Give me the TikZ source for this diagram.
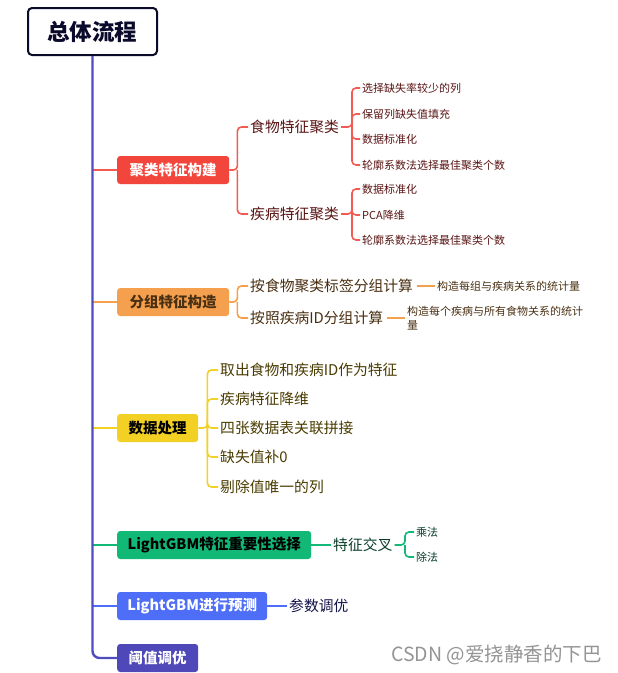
\documentclass[tikz,border=0pt]{standalone}
\usepackage{fontspec}
\setmainfont{Noto Sans CJK SC}
\definecolor{rootc}{HTML}{0A0A2A}
\definecolor{trunkc}{HTML}{4F4CC0}
\definecolor{redf}{HTML}{F2453C}
\definecolor{redl}{HTML}{F25A52}
\definecolor{redt}{HTML}{5A1414}
\definecolor{orf}{HTML}{F5A04E}
\definecolor{ort}{HTML}{4A3012}
\definecolor{yef}{HTML}{F2D024}
\definecolor{yet}{HTML}{4A3C00}
\definecolor{grf}{HTML}{12B876}
\definecolor{grt}{HTML}{0A3E2A}
\definecolor{blf}{HTML}{4F6EF7}
\definecolor{blt}{HTML}{12124A}
\definecolor{puf}{HTML}{4E48B8}
\tikzset{
 rootbox/.style={draw=rootc, line width=2pt, rounded corners=4pt, fill=white,
   minimum width=129pt, minimum height=47pt, inner sep=0pt,
   font=\fontsize{22.5}{26}\selectfont\bfseries, text=rootc},
 bbox/.style={anchor=west, rounded corners=3pt, minimum height=28pt, inner sep=0pt,
   font=\fontsize{14.5}{16}\selectfont\bfseries},
 subt/.style={anchor=west, inner sep=2pt, font=\fontsize{14.8}{17}\selectfont},
 leaf/.style={anchor=west, inner sep=2pt, font=\fontsize{11}{13.5}\selectfont, align=left},
 bl/.style={line width=2pt},
 sl/.style={line width=1.6pt, rounded corners=4pt},
}
\begin{document}
\begin{tikzpicture}[x=1pt,y=-1pt]
\fill[white] (0,0) rectangle (618,673);
\useasboundingbox (0,0) rectangle (618,673);

% root
\node[rootbox] (root) at (92.5,31.5) {总体流程};

% branch boxes
\node[bbox, fill=redf, text=white, minimum width=112pt] (b1) at (117,170) {聚类特征构建};
\node[bbox, fill=orf, text=ort, minimum width=112pt] (b2) at (117,302) {分组特征构造};
\node[bbox, fill=yef, text=black, minimum width=81pt] (b3) at (117,428) {数据处理};
\node[bbox, fill=grf, text=black, minimum width=194pt] (b4) at (117,545) {LightGBM特征重要性选择};
\node[bbox, fill=blf, text=white, minimum width=150pt] (b5) at (117,606) {LightGBM进行预测};
\node[bbox, fill=puf, text=white, minimum width=81pt] (b6) at (117,658) {阈值调优};

% trunk and branch connectors
\draw[bl, redl] (root.south |- b1.west) -- (b1.west);
\draw[bl, orf] (root.south |- b2.west) -- (b2.west);
\draw[bl, yef] (root.south |- b3.west) -- (b3.west);
\draw[bl, grf] (root.south |- b4.west) -- (b4.west);
\draw[bl, blf] (root.south |- b5.west) -- (b5.west);
\draw[line width=2.4pt, trunkc, rounded corners=7pt] (root.south) |- (b6.west);

% ---- branch 1
\node[subt, text=redt] (s11) at (248,127) {食物特征聚类};
\node[subt, text=redt] (s12) at (248,214) {疾病特征聚类};
\draw[sl, redl] (b1.east) -- ++(8,0) coordinate (j1) |- (s11.west);
\draw[sl, redl] (j1) |- (s12.west);

\node[leaf, text=redt] (l111) at (360,88) {选择缺失率较少的列};
\node[leaf, text=redt] (l112) at (360,114) {保留列缺失值填充};
\node[leaf, text=redt] (l113) at (360,139) {数据标准化};
\node[leaf, text=redt] (l114) at (360,165) {轮廓系数法选择最佳聚类个数};
\draw[sl, redl] (s11.east) -- (352,127) coordinate (j11) |- (l111.west);
\draw[sl, redl] (j11) |- (l112.west);
\draw[sl, redl] (j11) |- (l113.west);
\draw[sl, redl] (j11) |- (l114.west);

\node[leaf, text=redt] (l121) at (360,189) {数据标准化};
\node[leaf, text=redt] (l122) at (360,215) {PCA降维};
\node[leaf, text=redt] (l123) at (360,240) {轮廓系数法选择最佳聚类个数};
\draw[sl, redl] (s12.east) -- (352,214) coordinate (j12) |- (l121.west);
\draw[sl, redl] (j12) |- (l122.west);
\draw[sl, redl] (j12) |- (l123.west);

% ---- branch 2
\node[subt, text=ort] (s21) at (248,286) {按食物聚类标签分组计算};
\node[subt, text=ort] (s22) at (248,318) {按照疾病ID分组计算};
\draw[sl, orf] (b2.east) -- ++(8,0) coordinate (j2) |- (s21.west);
\draw[sl, orf] (j2) |- (s22.west);
\node[leaf, text=ort] (l21) at (435,286) {构造每组与疾病关系的统计量};
\node[leaf, text=ort] (l22) at (405,318) {构造每个疾病与所有食物关系的统计\\量};
\draw[line width=1.4pt, orf, shorten <=2pt] (s21.east) -- (l21.west);
\draw[line width=1.4pt, orf, shorten <=2pt] (s22.east) -- (l22.west);

% ---- branch 3
\node[subt, text=yet] (s31) at (218,370) {取出食物和疾病ID作为特征};
\node[subt, text=yet] (s32) at (218,399) {疾病特征降维};
\node[subt, text=yet] (s33) at (218,428) {四张数据表关联拼接};
\node[subt, text=yet] (s34) at (218,457) {缺失值补0};
\node[subt, text=yet] (s35) at (218,487) {剔除值唯一的列};
\draw[sl, yef] (b3.east) -- ++(9,0) coordinate (j3) |- (s31.west);
\draw[sl, yef] (j3) |- (s32.west);
\draw[sl, yef] (j3) |- (s33.west);
\draw[sl, yef] (j3) |- (s34.west);
\draw[sl, yef] (j3) |- (s35.west);

% ---- branch 4
\node[subt, text=grt] (s41) at (331,545) {特征交叉};
\draw[sl, grf] (b4.east) -- (s41.west);
\node[leaf, text=grt] (l411) at (414,532) {乘法};
\node[leaf, text=grt] (l412) at (414,557) {除法};
\draw[sl, grf] (s41.east) -- (405,545) coordinate (j41) |- (l411.west);
\draw[sl, grf] (j41) |- (l412.west);

% ---- branch 5
\node[subt, text=blt] (s51) at (287,606) {参数调优};
\draw[sl, blf] (b5.east) -- (s51.west);

% watermark
\node[anchor=west, inner sep=0pt, text=black!42, font=\fontsize{19.5}{21}\selectfont] (wm) at (391,655) {CSDN @爱挠静香的下巴};
\end{tikzpicture}
\end{document}
